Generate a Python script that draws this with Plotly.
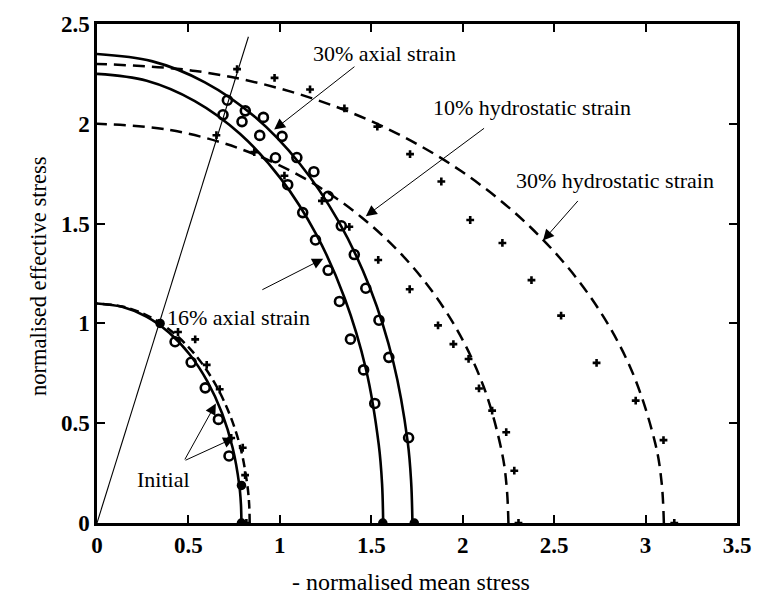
import plotly.graph_objects as go

# ---------------- data ----------------
# yield-surface curves (points along each curve, from x-axis to y-axis)
init_solid_x = [0.79, 0.787, 0.778, 0.742, 0.684, 0.605, 0.508, 0.395, 0.270, 0.137, 0.0]
init_solid_y = [0.0, 0.096, 0.191, 0.376, 0.550, 0.707, 0.843, 0.953, 1.034, 1.083, 1.10]

init_dash_x = [0.835, 0.832, 0.822, 0.785, 0.723, 0.640, 0.537, 0.418, 0.286, 0.145, 0.0]
init_dash_y = [0.0, 0.096, 0.191, 0.376, 0.550, 0.707, 0.843, 0.953, 1.034, 1.083, 1.10]

ax16_x = [1.565, 1.559, 1.541, 1.471, 1.355, 1.199, 1.006, 0.783, 0.535, 0.272, 0.0]
ax16_y = [0.0, 0.196, 0.391, 0.770, 1.125, 1.446, 1.724, 1.949, 2.114, 2.216, 2.25]

ax30_x = [1.725, 1.718, 1.699, 1.621, 1.494, 1.321, 1.109, 0.863, 0.590, 0.299, 0.0]
ax30_y = [0.0, 0.205, 0.408, 0.804, 1.175, 1.511, 1.800, 2.035, 2.208, 2.314, 2.35]

hy10_x = [2.25, 2.241, 2.216, 2.114, 1.949, 1.724, 1.446, 1.125, 0.770, 0.391, 0.0]
hy10_y = [0.0, 0.174, 0.347, 0.684, 1.000, 1.286, 1.532, 1.732, 1.879, 1.970, 2.00]

hy30_x = [3.10, 3.088, 3.053, 2.913, 2.685, 2.375, 1.993, 1.550, 1.060, 0.538, 0.0]
hy30_y = [0.0, 0.201, 0.399, 0.787, 1.150, 1.478, 1.762, 1.992, 2.161, 2.265, 2.30]

# stress path line from origin
path_x = [0.0, 0.828]
path_y = [0.0, 2.436]

# experimental points: axial tests (open circles)
circ_init_x = [0.427, 0.515, 0.592, 0.664, 0.722]
circ_init_y = [0.908, 0.805, 0.677, 0.519, 0.336]

circ16_x = [0.689, 0.793, 0.890, 0.976, 1.043, 1.125, 1.195, 1.264, 1.326, 1.386, 1.458, 1.519]
circ16_y = [2.045, 2.011, 1.942, 1.830, 1.695, 1.555, 1.418, 1.266, 1.110, 0.921, 0.767, 0.599]

circ30_x = [0.713, 0.811, 0.910, 1.012, 1.093, 1.186, 1.264, 1.336, 1.407, 1.470, 1.542, 1.596, 1.704]
circ30_y = [2.118, 2.065, 2.032, 1.937, 1.831, 1.760, 1.637, 1.489, 1.345, 1.176, 1.016, 0.830, 0.427]

# experimental points: hydrostatic tests (plus signs)
plus_init_x = [0.443, 0.537, 0.600, 0.671, 0.734, 0.797, 0.810, 0.817]
plus_init_y = [0.957, 0.920, 0.792, 0.670, 0.426, 0.377, 0.240, 0.0]

plus10_x = [0.653, 0.860, 1.025, 1.230, 1.380, 1.538, 1.710, 1.865, 1.949, 2.032, 2.089, 2.161, 2.238, 2.282, 2.305]
plus10_y = [1.943, 1.858, 1.740, 1.614, 1.484, 1.318, 1.171, 0.990, 0.896, 0.822, 0.674, 0.563, 0.455, 0.262, 0.0]

plus30_x = [0.766, 0.971, 1.165, 1.353, 1.533, 1.712, 1.883, 2.041, 2.217, 2.376, 2.538, 2.732, 2.946, 3.098, 3.157]
plus30_y = [2.274, 2.230, 2.172, 2.077, 1.986, 1.848, 1.711, 1.518, 1.403, 1.217, 1.039, 0.802, 0.613, 0.415, 0.0]

# filled points
dot_x = [0.345, 0.790, 0.790, 1.563, 1.735]
dot_y = [1.000, 0.188, 0.0, 0.0, 0.0]

x_ticks = [0, 0.5, 1, 1.5, 2, 2.5, 3, 3.5]
x_tick_text = ["0", "0.5", "1", "1.5", "2", "2.5", "3", "3.5"]
y_ticks = [0, 0.5, 1, 1.5, 2, 2.5]
y_tick_text = ["0", "0.5", "1", "1.5", "2", "2.5"]

# ---------------- figure ----------------
SERIF = "Liberation Serif"
fig = go.Figure()

def curve(x, y, dash=None, width=2.6):
    fig.add_trace(go.Scatter(x=x, y=y, mode="lines",
                             line=dict(color="black", width=width, shape="spline",
                                       dash=dash if dash else "solid"),
                             showlegend=False, hoverinfo="skip"))

curve(init_dash_x, init_dash_y, dash="9px,5px", width=2.5)
curve(hy10_x, hy10_y, dash="12px,7px", width=2.5)
curve(hy30_x, hy30_y, dash="12px,7px", width=2.5)
curve(init_solid_x, init_solid_y)
curve(ax16_x, ax16_y)
curve(ax30_x, ax30_y)

fig.add_trace(go.Scatter(x=path_x, y=path_y, mode="lines",
                         line=dict(color="black", width=1.1),
                         showlegend=False, hoverinfo="skip"))

def points(x, y, symbol, size, lw=0):
    fig.add_trace(go.Scatter(x=x, y=y, mode="markers",
                             marker=dict(symbol=symbol, size=size, color="black",
                                         line=dict(color="black", width=lw)),
                             showlegend=False, hoverinfo="skip"))

points(circ_init_x, circ_init_y, "circle-open", 9, 2.6)
points(circ16_x, circ16_y, "circle-open", 9, 2.6)
points(circ30_x, circ30_y, "circle-open", 9, 2.6)
points(plus_init_x, plus_init_y, "cross", 6.5)
points(plus10_x, plus10_y, "cross", 6.5)
points(plus30_x, plus30_y, "cross", 6.5)
points(dot_x, dot_y, "circle", 9.5)

# text labels
labels = [
    ("30% axial strain", 1.572, 2.352),
    ("10% hydrostatic strain", 2.378, 2.080),
    ("30% hydrostatic strain", 2.835, 1.714),
    ("16% axial strain", 0.775, 1.028),
    ("Initial", 0.363, 0.217),
]
for t, x, y in labels:
    fig.add_annotation(x=x, y=y, xref="x", yref="y", text=t, showarrow=False,
                       font=dict(family=SERIF, size=22, color="black"))

# arrows (head, tail)
arrows = [
    (0.969, 1.971, 1.416, 2.292),
    (1.470, 1.537, 2.125, 1.983),
    (2.439, 1.415, 2.637, 1.621),
    (1.237, 1.324, 0.896, 1.165),
    (0.650, 0.599, 0.476, 0.311),
    (0.750, 0.426, 0.476, 0.311),
]
for hx, hy, tx, ty in arrows:
    fig.add_annotation(x=hx, y=hy, ax=tx, ay=ty, xref="x", yref="y",
                       axref="x", ayref="y", text="", showarrow=True,
                       arrowhead=2, arrowsize=2.2, arrowwidth=1, arrowcolor="black",
                       standoff=0, startstandoff=0)

# axis titles as annotations
fig.add_annotation(x=0.491, y=-0.148, xref="paper", yref="paper",
                   text="- normalised mean stress", showarrow=False,
                   font=dict(family=SERIF, size=24, color="black"))
fig.add_annotation(x=-0.114, y=0.494, xref="paper", yref="paper",
                   text="normalised effective stress", showarrow=False, textangle=-90,
                   font=dict(family=SERIF, size=22.5, color="black"))

axis_common = dict(showgrid=False, zeroline=False, showline=True, linecolor="black",
                   linewidth=2.5, mirror="ticks", ticks="inside", ticklen=8,
                   tickwidth=2, tickcolor="black",
                   tickfont=dict(family=SERIF, size=23, color="black", weight="bold"))

fig.update_layout(
    width=763, height=607,
    margin=dict(l=97, r=16, t=17, b=84),
    paper_bgcolor="white", plot_bgcolor="white",
    xaxis=dict(range=[0, 3.5], tickvals=x_ticks, ticktext=x_tick_text, **axis_common),
    yaxis=dict(range=[0, 2.5], tickvals=y_ticks, ticktext=y_tick_text, **axis_common),
)

fig.write_html("out.html")
